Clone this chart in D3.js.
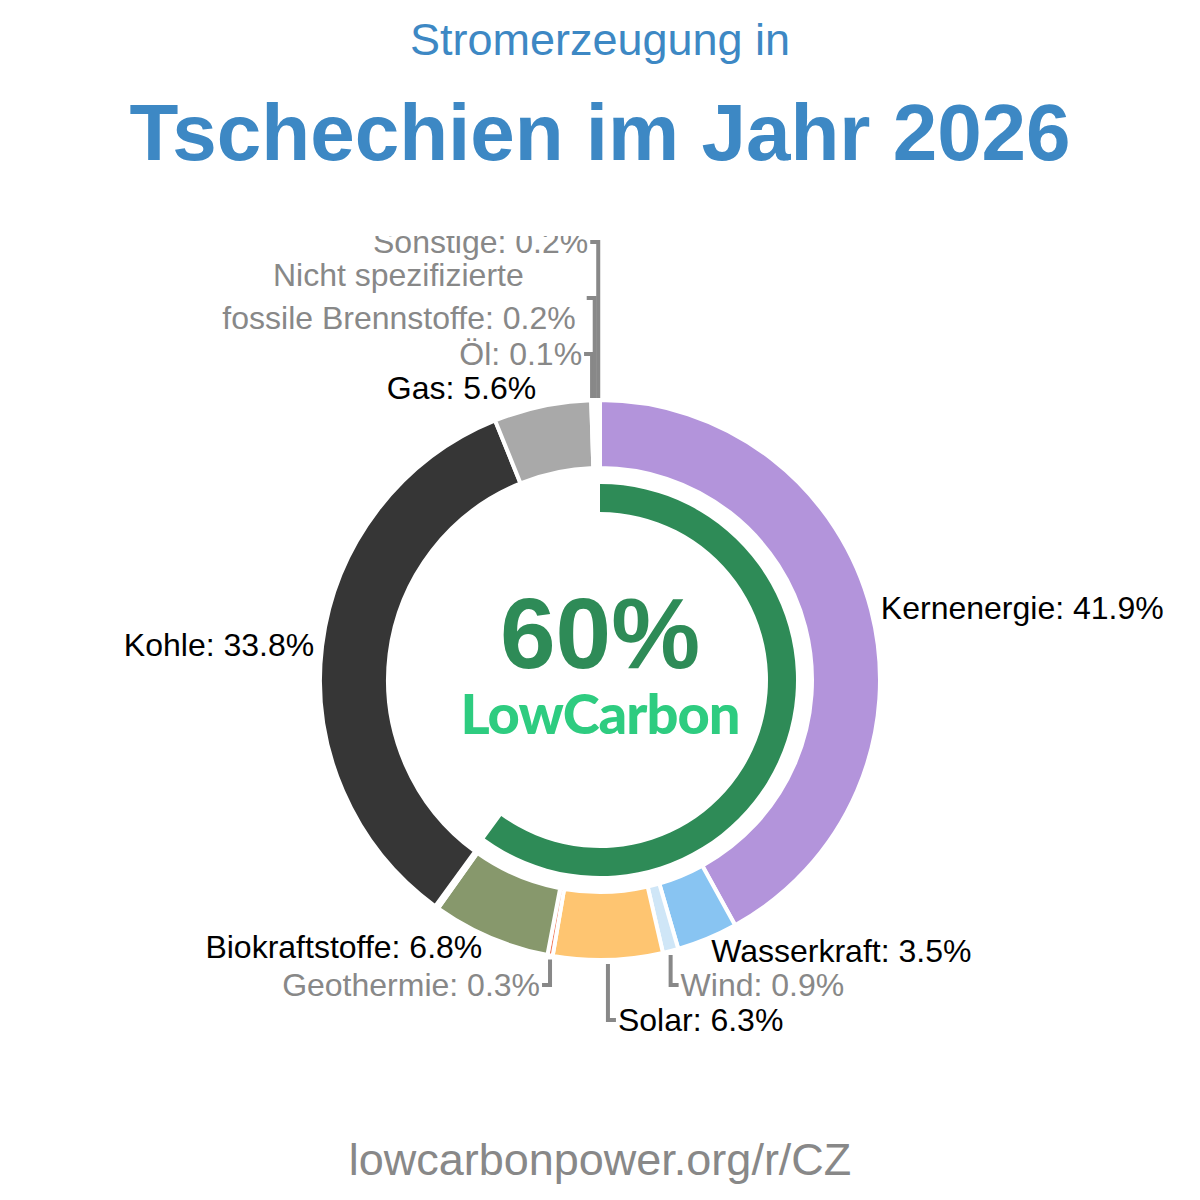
<!DOCTYPE html>
<html>
<head>
<meta charset="utf-8">
<script src="https://cdn.jsdelivr.net/npm/d3@7"></script>
<style>
  body { margin: 0; background: #fff; }
</style>
</head>
<body>
<div id="chart"></div>
<script>
// sources, clockwise from the top
var sources = ["Kernenergie", "Wasserkraft", "Wind", "Solar", "Geothermie", "Biokraftstoffe", "", "Kohle", "Gas", "Öl", "Nicht spezifizierte fossile Brennstoffe", "Sonstige"];
var shares  = [41.9, 3.5, 0.9, 6.3, 0.3, 6.8, 0.2, 33.8, 5.6, 0.1, 0.2, 0.2];
var colors  = ["#b394db", "#88c4f2", "#cfe6f7", "#fec571", "#f07a5a", "#87986c", "#3fb3a0", "#363636", "#a9a9a9", "#8c8c8c", "#9a9a9a", "#b0b0b0"];
var lowCarbonShare = 60;

var width = 1200, height = 1200,
    cx = 600, cy = 680,
    rOuter = 280, rInner = 212;
var font = "Arial, 'Liberation Sans', Helvetica, sans-serif";

var svg = d3.select("#chart").append("svg")
    .attr("width", width)
    .attr("height", height)
    .attr("font-family", font);

// titles
svg.append("text")
    .attr("x", 600).attr("y", 55)
    .attr("text-anchor", "middle")
    .style("font-family", font)
    .style("font-size", "45px")
    .style("fill", "#3d88c4")
    .text("Stromerzeugung in");

svg.append("text")
    .attr("x", 600).attr("y", 160)
    .attr("text-anchor", "middle")
    .style("font-family", font)
    .style("font-size", "80px")
    .style("font-weight", "bold")
    .style("fill", "#3d88c4")
    .text("Tschechien im Jahr 2026");

svg.append("text")
    .attr("x", 600).attr("y", 1175)
    .attr("text-anchor", "middle")
    .style("font-family", font)
    .style("font-size", "45px")
    .style("fill", "#888")
    .text("lowcarbonpower.org/r/CZ");

svg.append("clipPath").attr("id", "clip")
  .append("rect").attr("x", 0).attr("y", 236).attr("width", width).attr("height", 900);

var chart = svg.append("g")
    .attr("clip-path", "url(#clip)")
  .append("g")
    .attr("transform", "translate(" + cx + "," + cy + ")");

var data = sources.map(function(s, i) { return {name: s, value: shares[i], color: colors[i]}; });

var pie = d3.pie().sort(null).value(function(d) { return d.value; });
var arc = d3.arc().innerRadius(rInner).outerRadius(rOuter);
var arcs = pie(data);

chart.selectAll("path.slice")
    .data(arcs)
  .enter().append("path")
    .attr("class", "slice")
    .attr("d", arc)
    .style("fill", function(d) { return d.data.color; })
    .style("stroke", "#fff")
    .style("stroke-width", 4);

// low carbon ring
var ring = d3.arc().innerRadius(168).outerRadius(196)
    .startAngle(0)
    .endAngle(2 * Math.PI * lowCarbonShare / 100);
chart.append("path").attr("d", ring()).style("fill", "#2e8b57");

chart.append("text")
    .attr("x", 0).attr("y", -12)
    .attr("text-anchor", "middle")
    .style("font-family", font)
    .style("font-size", "100px")
    .style("font-weight", "bold")
    .style("fill", "#2e8b57")
    .text(lowCarbonShare + "%");

chart.append("text")
    .attr("x", 0).attr("y", 54)
    .attr("text-anchor", "middle")
    .style("font-family", "Lato, 'Noto Sans', sans-serif")
    .style("font-size", "56px")
    .style("font-weight", "900")
    .style("letter-spacing", "-1px")
    .style("fill", "#2ecc80")
    .text("LowCarbon");

// labels
var byName = {};
arcs.forEach(function(d) { byName[d.data.name] = d; });
function mid(d) { return (d.startAngle + d.endAngle) / 2; }
function px(a, r) { return r * Math.sin(a); }
function py(a, r) { return -r * Math.cos(a); }

// plain labels placed at the slice middle
var direct = ["Kernenergie", "Wasserkraft", "Biokraftstoffe", "Kohle", "Gas"];
direct.forEach(function(n) {
  var d = byName[n], a = mid(d), r = 290;
  var shift = n == "Kohle" ? 2 : (Math.sin(a) >= 0 ? 0 : -4);
  chart.append("text")
      .attr("x", px(a, r) + shift)
      .attr("y", py(a, r) + (n == "Gas" ? -8 : 0) + (n == "Wasserkraft" ? 3 : 0))
      .attr("dy", "0.35em")
      .attr("text-anchor", Math.sin(a) >= 0 ? "start" : "end")
      .style("font-family", font)
      .style("font-size", "32px")
      .style("fill", "#000")
      .text(n + ": " + d.data.value.toFixed(1) + "%");
});

// labels with leader lines: [name, label y, horizontal tick direction, colour]
var leaders = [
  ["Solar", 340, 1, "#000"],
  ["Wind", 305, 1, "#888"],
  ["Geothermie", 305, -1, "#888"],
  ["Öl", -326, -1, "#888"],
  ["Nicht spezifizierte fossile Brennstoffe", -382, -1, "#888"],
  ["Sonstige", -438, -1, "#888"]
];
leaders.forEach(function(l) {
  var d = byName[l[0]], a = mid(d);
  var x0 = px(a, rOuter), y0 = py(a, rOuter) + (l[1] > 0 ? 4 : -2);
  var x1 = x0 + l[2] * 8;
  chart.append("path")
      .attr("d", "M" + x0 + "," + y0 + "V" + l[1] + "H" + x1)
      .style("fill", "none")
      .style("stroke", "#888")
      .style("stroke-width", 4);
  var t = chart.append("text")
      .attr("x", x1 + l[2] * 2)
      .attr("y", l[1])
      .attr("dy", "0.35em")
      .attr("text-anchor", l[2] > 0 ? "start" : "end")
      .style("font-family", font)
      .style("font-size", "32px")
      .style("fill", l[3]);
  if (l[0].indexOf("Nicht") == 0) {
    t.append("tspan").attr("x", x1 - 63).attr("dy", "-0.37em").text("Nicht spezifizierte");
    t.append("tspan").attr("x", x1 - 11).attr("dy", "1.35em").text("fossile Brennstoffe: " + d.data.value.toFixed(1) + "%");
  } else {
    t.text(l[0] + ": " + d.data.value.toFixed(1) + "%");
  }
});
</script>
</body>
</html>
